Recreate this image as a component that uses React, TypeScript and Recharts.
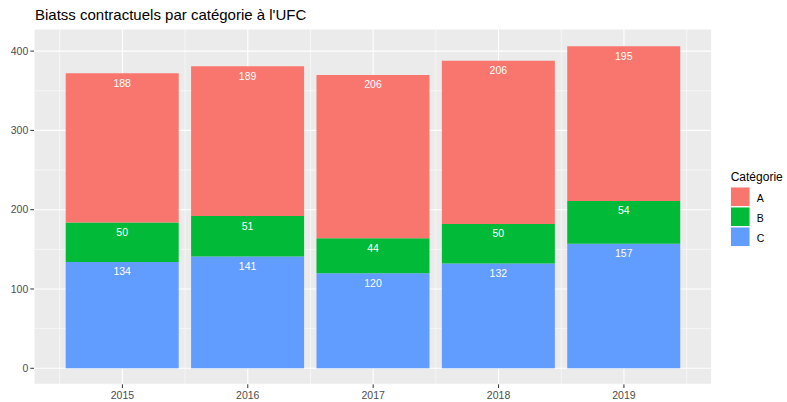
import React from 'react';
import { BarChart, Bar, XAxis, YAxis, CartesianGrid, Legend, LabelList } from 'recharts';

const years = [2015, 2016, 2017, 2018, 2019];
const catA = [188, 189, 206, 206, 195];
const catB = [50, 51, 44, 50, 54];
const catC = [134, 141, 120, 132, 157];
const yTicks = [0, 100, 200, 300, 400];
const yMinor = [50, 150, 250, 350];
const xMinor = [2014.5, 2015.5, 2016.5, 2017.5, 2018.5, 2019.5];
const categories = ['A', 'B', 'C'];
const colors: Record<string, string> = { A: '#F8766D', B: '#00BA38', C: '#619CFF' };

const data = years.map((year, i) => ({ year, A: catA[i], B: catB[i], C: catC[i] }));

const FONT = "'Liberation Sans', Arial, Helvetica, sans-serif";

const LegendContent = (props: any) => {
  const payload: any[] = props.payload || [];
  const items = categories
    .map((c) => payload.find((p) => p.value === c || p.dataKey === c))
    .filter(Boolean);
  return (
    <svg width={70} height={95} style={{ display: 'block', fontFamily: FONT }}>
      <text x={5.7} y={20.7} fontSize={12} fill="#000000">Catégorie</text>
      {items.map((p: any, i: number) => (
        <g key={p.value}>
          <rect x={5.5} y={27 + i * 20} width={19.5} height={19.5} fill="#F2F2F2" />
          <rect x={6} y={27.5 + i * 20} width={18.5} height={18.5} fill={p.color} />
          <text x={31.7} y={42 + i * 19.8} fontSize={10.5} fill="#000000">{p.value}</text>
        </g>
      ))}
    </svg>
  );
};

export default function App() {
  return (
    <div style={{ position: 'absolute', left: 0, top: 0, width: 787, height: 402, background: '#FFFFFF', fontFamily: FONT }}>
      <BarChart
        width={787}
        height={402}
        data={data}
        margin={{ top: 29, right: 75.3, bottom: 0, left: 0 }}
      >
        <CartesianGrid
          fill="#EBEBEB"
          stroke="#FFFFFF"
          strokeWidth={0.55}
          horizontalValues={yMinor}
          verticalValues={xMinor}
        />
        <CartesianGrid fill="none" stroke="#FFFFFF" strokeWidth={1.1} />
        <XAxis
          type="number"
          dataKey="year"
          domain={[2014.295, 2019.7]}
          ticks={years}
          interval={0}
          allowDataOverflow
          axisLine={false}
          tickLine={{ stroke: '#333333', strokeWidth: 1 }}
          tickSize={3.7}
          tickMargin={3.7}
          height={17.7}
          tick={{ fill: '#4D4D4D', fontSize: 10.5 }}
          tickFormatter={(v: number) => String(v)}
        />
        <YAxis
          type="number"
          domain={[-20.2, 427.9]}
          ticks={yTicks}
          interval={0}
          allowDataOverflow
          axisLine={false}
          tickLine={{ stroke: '#333333', strokeWidth: 1 }}
          tickSize={3.7}
          tickMargin={2}
          width={34}
          tick={{ fill: '#4D4D4D', fontSize: 10.5 }}
        />
        <Legend
          layout="vertical"
          align="center"
          verticalAlign="middle"
          content={<LegendContent />}
          wrapperStyle={{ position: 'absolute', left: 725, top: 160, width: 70, height: 95 }}
        />
        <Bar dataKey="C" name="C" stackId="s" fill={colors.C} barSize={113} isAnimationActive={false}>
          <LabelList dataKey="C" position="insideTop" offset={6} fill="#FFFFFF" fontSize={10.5} />
        </Bar>
        <Bar dataKey="B" name="B" stackId="s" fill={colors.B} barSize={113} isAnimationActive={false}>
          <LabelList dataKey="B" position="insideTop" offset={6} fill="#FFFFFF" fontSize={10.5} />
        </Bar>
        <Bar dataKey="A" name="A" stackId="s" fill={colors.A} barSize={113} isAnimationActive={false}>
          <LabelList dataKey="A" position="insideTop" offset={6} fill="#FFFFFF" fontSize={10.5} />
        </Bar>
      </BarChart>
      <svg width={787} height={30} style={{ position: 'absolute', left: 0, top: 0, pointerEvents: 'none' }}>
        <text x={35} y={20} fontSize={15} fill="#000000" fontFamily={FONT}>Biatss contractuels par catégorie à l'UFC</text>
      </svg>
    </div>
  );
}
